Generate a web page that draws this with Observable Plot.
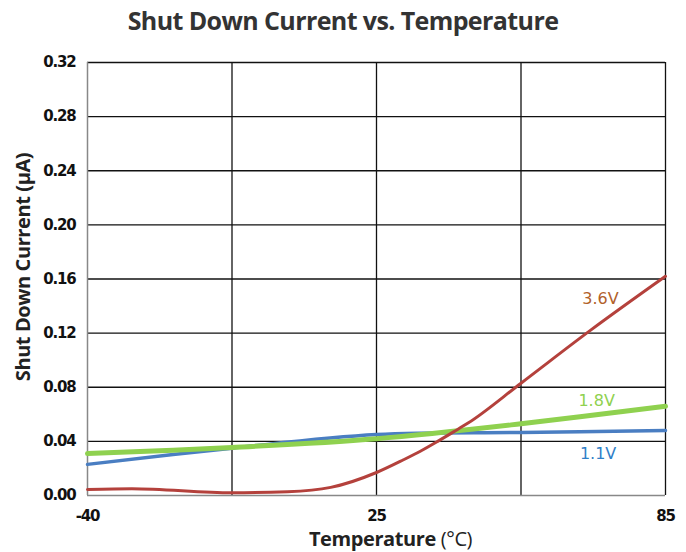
<!DOCTYPE html>
<html><head><meta charset="utf-8">
<script src="https://cdn.jsdelivr.net/npm/d3@7"></script>
<script src="https://cdn.jsdelivr.net/npm/@observablehq/plot@0.6"></script>
<style>
body{margin:0;background:#fff;}
#title{height:40px;line-height:40px;text-align:center;font-family:"Open Sans",sans-serif;font-weight:700;font-size:25px;color:#333;letter-spacing:-0.6px;}
</style></head>
<body>
<div id="title">Shut Down Current vs. Temperature</div>
<div id="chart"></div>
<script>
const temps = [-40, -7.5, 25, 55, 85];
const v11 = [0.023, 0.035, 0.045, 0.0466, 0.048];
const v18 = [0.031, 0.0355, 0.042, 0.053, 0.066];
const redTemps = [-40, -30, -7.5, 5, 14.7, 25, 30.6, 34.1, 37.7, 41, 44, 55, 69.4, 85];
const v36 = [0.0045, 0.005, 0.002, 0.0028, 0.006, 0.017, 0.0264, 0.0327, 0.040, 0.047, 0.0535, 0.083, 0.122, 0.162];
const yTicks = [0, 0.04, 0.08, 0.12, 0.16, 0.20, 0.24, 0.28, 0.32];
const xTicks = [-40, 25, 85];
const xGrid = [-7.5, 25, 55, 85];
const labels = ["3.6V", "1.8V", "1.1V"];
const labelT = [71.5, 70.7, 71];
const labelV = [0.1456, 0.070, 0.031];
const labelColors = ["#b1612a", "#8fd14f", "#2f7fc8"];

const blue = temps.map((t,i)=>({t, v:v11[i]}));
const green = temps.map((t,i)=>({t, v:v18[i]}));
const red = redTemps.map((t,i)=>({t, v:v36[i]}));
const lab = labels.map((s,i)=>({s, t:labelT[i], v:labelV[i], c:labelColors[i]}));

const narrow = "'DejaVu Sans',sans-serif";
const chart = Plot.plot({
  width: 686, height: 512,
  marginLeft: 87, marginRight: 21, marginTop: 22, marginBottom: 57,
  style: {fontFamily: narrow, fontSize: "14px", color: "#111"},
  x: {type: "linear", domain: [-40, 25, 85], range: [87, 665]},
  y: {domain: [0, 0.32]},
  marks: [
    Plot.ruleY(yTicks.filter(d=>d>0), {stroke: "#111", strokeWidth: 1.3}),
    Plot.ruleX(xGrid, {stroke: "#111", strokeWidth: 1.3}),
    Plot.ruleX([-40], {stroke: "#888", strokeWidth: 1.5}),
    Plot.ruleY([0], {stroke: "#888", strokeWidth: 1.5}),
    Plot.axisY({ticks: yTicks, tickFormat: d=>d.toFixed(2), tickSize: 0, tickPadding: 12,
      label: "Shut Down Current (μA)", labelAnchor: "center", labelArrow: "none", labelOffset: 72}),
    Plot.axisX({ticks: xTicks, tickFormat: d=>String(d), tickSize: 0, tickPadding: 15,
      label: "Temperature (°C)", labelAnchor: "center", labelArrow: "none", labelOffset: 50}),
    Plot.line(blue, {x: "t", y: "v", stroke: "#4a7ec2", strokeWidth: 3.5, curve: "catmull-rom"}),
    Plot.line(green, {x: "t", y: "v", stroke: "#8fd14f", strokeWidth: 5, curve: "catmull-rom"}),
    Plot.line(red, {x: "t", y: "v", stroke: "#b4413c", strokeWidth: 3, curve: "monotone-x"}),
    Plot.text(lab, {x: "t", y: "v", text: "s", fill: "c", fontSize: 16, fontFamily: narrow})
  ]
});
document.getElementById("chart").appendChild(chart);
const svg = d3.select(chart);
svg.selectAll("[aria-label='y-axis label'] text, [aria-label='x-axis label'] text").each(function(){
  const el = d3.select(this);
  el.style("font-family", "'Open Sans',sans-serif").style("fill", "#222");
  const txt = el.text();
  if (txt.startsWith("Temperature")) {
    el.style("font-size", "20px").attr("dx", 14).style("letter-spacing", "-0.4px");
    el.text(null);
    el.append("tspan").attr("font-weight", 700).text("Temperature ");
    el.append("tspan").attr("font-weight", 400).text("(°C)");
  } else {
    el.style("font-size", "20px").attr("font-weight", 700).style("letter-spacing", "-0.4px").attr("dx", 12);
  }
});
svg.selectAll("[aria-label='y-axis tick label'] text, [aria-label='x-axis tick label'] text")
  .style("font-weight", 700).style("fill","#111").style("font-size","15px").style("letter-spacing","-1.2px");
</script>
</body></html>
